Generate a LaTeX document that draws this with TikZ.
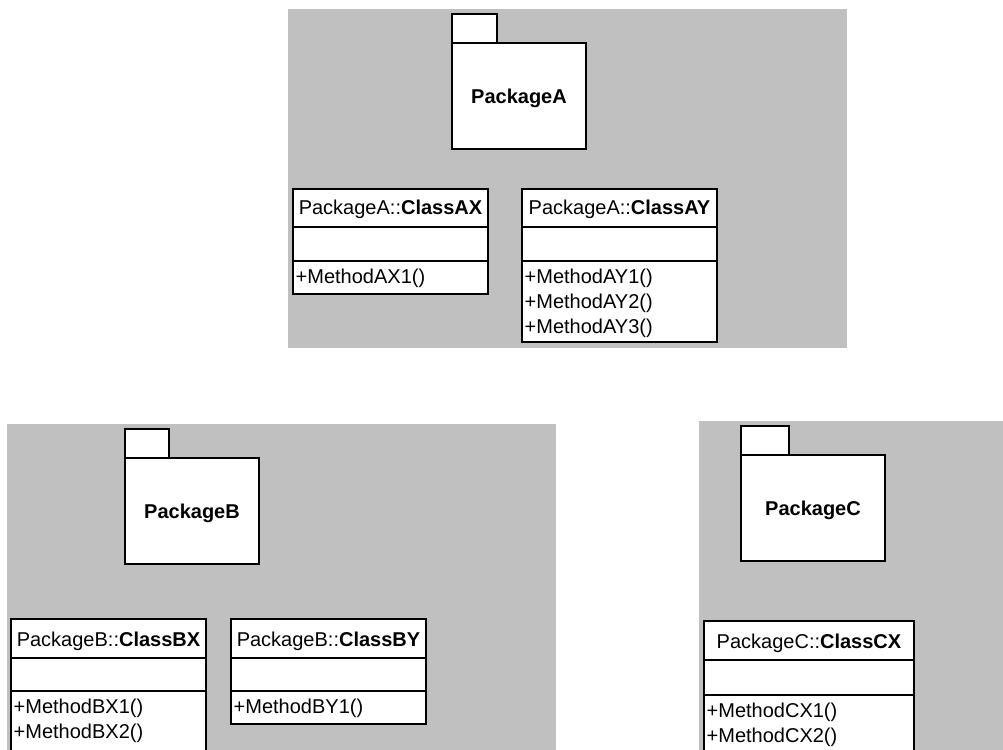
\documentclass[tikz,border=0pt]{standalone}
\usepackage{fontspec}
\setmainfont{Liberation Sans}
\begin{document}
\begin{tikzpicture}[x=1pt,y=-1pt,
  region/.style={fill=silverbg, draw=none},
  box/.style={draw=black, fill=white, line width=1.4pt},
  sep/.style={draw=black, line width=1.4pt},
  pkgname/.style={anchor=base, inner sep=0pt, font=\fontsize{20}{25}\selectfont\bfseries},
  header/.style={anchor=base, inner sep=0pt, font=\fontsize{20}{25}\selectfont},
  method/.style={anchor=base west, inner sep=0pt, font=\fontsize{20}{25}\selectfont}]
\definecolor{silverbg}{RGB}{192,192,192}
\useasboundingbox (0,0) rectangle (1003,749);
\clip (0,0) rectangle (1003,749);
% regions
\fill[region] (288,9) rectangle (847,348);
\fill[region] (7,424) rectangle (556,760);
\fill[region] (699,421) rectangle (1010,760);
% Package A
\draw[box] (452,14) rectangle (497,43);
\draw[box] (452,43) rectangle (586,149);
\node[pkgname] (pkgA) at (519,104) {PackageA};
% ClassAX
\draw[box] (293,189) rectangle (488,294);
\draw[sep] (293,227) -- (488,227);
\draw[sep] (293,261) -- (488,261);
\node[header] (ax) at (390.5,214.5) {PackageA::\textbf{ClassAX}};
\node[method] (ax1) at (295.5,283) {+MethodAX1()};
% ClassAY
\draw[box] (522,189) rectangle (717,342);
\draw[sep] (522,227) -- (717,227);
\draw[sep] (522,261) -- (717,261);
\node[header] (ay) at (619.5,214.5) {PackageA::\textbf{ClassAY}};
\node[method] (ay1) at (524.5,283) {+MethodAY1()};
\node[method] (ay2) at (524.5,308) {+MethodAY2()};
\node[method] (ay3) at (524.5,333) {+MethodAY3()};
% Package B
\draw[box] (125,429) rectangle (169,458);
\draw[box] (125,458) rectangle (259,564);
\node[pkgname] (pkgB) at (192,518.5) {PackageB};
% ClassBX
\draw[box] (11,619) rectangle (206,770);
\draw[sep] (11,658) -- (206,658);
\draw[sep] (11,691) -- (206,691);
\node[header] (bx) at (108.5,646) {PackageB::\textbf{ClassBX}};
\node[method] (bx1) at (13.5,713) {+MethodBX1()};
\node[method] (bx2) at (13.5,738) {+MethodBX2()};
% ClassBY
\draw[box] (231,619) rectangle (426,724);
\draw[sep] (231,658) -- (426,658);
\draw[sep] (231,691) -- (426,691);
\node[header] (by) at (328.5,646) {PackageB::\textbf{ClassBY}};
\node[method] (by1) at (233.5,713) {+MethodBY1()};
% Package C
\draw[box] (741,426) rectangle (789,455);
\draw[box] (741,455) rectangle (885,561);
\node[pkgname] (pkgC) at (813,515) {PackageC};
% ClassCX
\draw[box] (704,621) rectangle (914,770);
\draw[sep] (704,660) -- (914,660);
\draw[sep] (704,695) -- (914,695);
\node[header] (cx) at (809,648) {PackageC::\textbf{ClassCX}};
\node[method] (cx1) at (706.5,717) {+MethodCX1()};
\node[method] (cx2) at (706.5,742) {+MethodCX2()};
\end{tikzpicture}
\end{document}
